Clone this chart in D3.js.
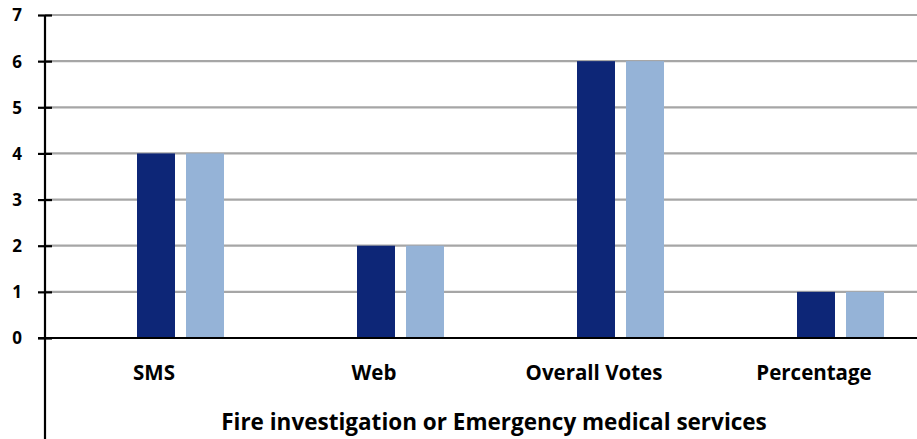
<!DOCTYPE html>
<html><head><meta charset="utf-8">
<script src="https://cdn.jsdelivr.net/npm/d3@7/dist/d3.min.js"></script>
<style>
body{margin:0;background:#fff;}
text{font-family:"Open Sans",sans-serif;font-weight:bold;fill:#000;}
</style></head>
<body><svg id="c" width="917" height="439"></svg>
<script>
const categories = ["SMS","Web","Overall Votes","Percentage"];
const seriesNames = ["(empty)","Series 1","Series 2"];
const hiddenSeries = [0,0,0,0];
const series1 = [4,2,6,1];
const series2 = [4,2,6,1];
const yTicks = [0,1,2,3,4,5,6,7];
const axisTitle = "Fire investigation or Emergency medical services";
const colors = [null,"#0D2677","#95B3D7"];

const svg = d3.select("#c");
const mLeft = 45, mTop = 15, mBottom = 338;
const band = 220;
const x0 = d3.scaleBand().domain(categories).range([mLeft, mLeft + band*categories.length]).paddingInner(0).paddingOuter(0);
const x1 = d3.scaleBand().domain(seriesNames).range([43, 179]).paddingInner(11/49).paddingOuter(0);
const y = d3.scaleLinear().domain([0,7]).range([mBottom, mTop]);

// gridlines
svg.append("g").selectAll("line").data(yTicks.filter(d=>d>0)).join("line")
  .attr("x1", mLeft).attr("x2", 917).attr("y1", d=>y(d)).attr("y2", d=>y(d))
  .attr("stroke","#A6A6A6").attr("stroke-width",2.2);

const data = [hiddenSeries, series1, series2];
seriesNames.forEach((s,i)=>{
  if(i===0) return;
  svg.append("g").selectAll("rect").data(data[i]).join("rect")
    .attr("x",(d,j)=>x0(categories[j]) + x1(s))
    .attr("width", x1.bandwidth())
    .attr("y", d=>y(d)).attr("height", d=>y(0)-y(d))
    .attr("fill", colors[i]);
});

// y axis
const yAxis = d3.axisLeft(y).tickValues(yTicks).tickSize(0).tickPadding(0).tickFormat(d3.format("d"));
const ga = svg.append("g").attr("transform",`translate(${mLeft},0)`).call(yAxis);
ga.select(".domain").remove();
ga.selectAll("text").attr("x",-23).attr("dy","0.35em").style("font-size","17px").style("font-family","Open Sans").style("font-weight","bold");
ga.selectAll(".tick").append("line").attr("x1",-7).attr("x2",7).attr("stroke","#000").attr("stroke-width",2.2);
svg.append("line").attr("x1",mLeft).attr("x2",mLeft).attr("y1",mTop).attr("y2",439).attr("stroke","#000").attr("stroke-width",2.2);
// baseline
svg.append("line").attr("x1",mLeft-7).attr("x2",917).attr("y1",y(0)).attr("y2",y(0)).attr("stroke","#000").attr("stroke-width",2.2);

// category labels
svg.append("g").selectAll("text").data(categories).join("text")
  .attr("x", d=>x0(d)+band/2 - 1).attr("y", 380).attr("text-anchor","middle")
  .style("font-size","20.5px").text(d=>d);

svg.append("text").attr("x", 494).attr("y", 430).attr("text-anchor","middle")
  .style("font-size","22.5px").text(axisTitle);
</script></body></html>
